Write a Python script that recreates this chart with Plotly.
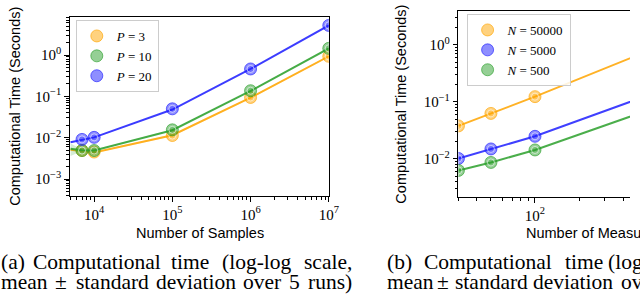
import plotly.graph_objects as go

# ---------------- data ----------------
# (a) time vs number of samples
samples_line = [5000, 7000, 10000, 100000, 1000000, 10000000]
samples_pts = [7000, 10000, 100000, 1000000, 10000000]
p_labels = ["<i>P</i> = 3", "<i>P</i> = 10", "<i>P</i> = 20"]
p3_mean = [0.0051, 0.0048, 0.0044, 0.0115, 0.093, 0.93]
p10_mean = [0.0054, 0.0050, 0.0049, 0.0152, 0.135, 1.45]
p20_mean = [0.0078, 0.0090, 0.0102, 0.048, 0.46, 5.2]
p3_std = [0.0003, 0.0002, 0.0002, 0.0006, 0.004, 0.03]
p10_std = [0.0018, 0.0002, 0.0002, 0.0005, 0.004, 0.04]
p20_std = [0.0004, 0.0003, 0.0003, 0.001, 0.01, 0.1]
p3_pts = [0.0049, 0.0045, 0.0113, 0.094, 0.93]
p10_pts = [0.0049, 0.0049, 0.0155, 0.137, 1.45]
p20_pts = [0.0091, 0.0102, 0.050, 0.46, 5.2]

# (b) time vs number of measurements
meas_x = [30, 50, 100, 500, 1000]
n_labels = ["<i>N</i> = 50000", "<i>N</i> = 5000", "<i>N</i> = 500"]
n50000 = [0.038, 0.063, 0.124, 0.66, 1.35]
n5000 = [0.0102, 0.015, 0.025, 0.112, 0.21]
n500 = [0.0063, 0.0087, 0.0144, 0.062, 0.115]

# tick labels
xa_tickvals = [1e4, 1e5, 1e6, 1e7]
xa_ticktext = ["10<sup>4</sup>", "10<sup>5</sup>", "10<sup>6</sup>", "10<sup>7</sup>"]
ya_tickvals = [1e-3, 1e-2, 1e-1, 1e0]
ya_ticktext = ["10<sup>−3</sup>", "10<sup>−2</sup>", "10<sup>−1</sup>", "10<sup>0</sup>"]
xb_tickvals = [1e2, 1e3]
xb_ticktext = ["10<sup>2</sup>", "10<sup>3</sup>"]
yb_tickvals = [1e-2, 1e-1, 1e0]
yb_ticktext = ["10<sup>−2</sup>", "10<sup>−1</sup>", "10<sup>0</sup>"]

x_title_a = "Number of Samples"
x_title_b = "Number of Measurements"
y_title = "Computational Time (Seconds)"
cap_line1 = ["(a)", "Computational", "time", "(log-log", "scale,"]
cap_line2 = ["mean", "±", "standard", "deviation", "over", "5", "runs)"]
capb_line1 = ["(b)", "Computational", "time", "(log-log", "scale,"]
capb_line2 = ["mean", "±", "standard", "deviation", "over", "5", "runs)"]

# ---------------- style ----------------
W, H = 640, 297
ORANGE = (255, 165, 0)
GREEN = (44, 160, 44)
BLUE = (30, 30, 255)


def rgba(c, a):
    return "rgba(%d,%d,%d,%.2f)" % (c[0], c[1], c[2], a)


def px(x):
    return x / W


def py(y):
    return 1 - y / H


def minor_ticks(lo_dec, hi_dec):
    return [m * 10 ** d for d in range(lo_dec, hi_dec) for m in range(2, 10)]


SERIF = "Liberation Serif, Times New Roman, serif"
SANS = "Liberation Sans, Arial, sans-serif"

fig = go.Figure()


def add_series(xl, yl, sl, xp, yp, color, name, xa, ya, legend):
    if sl is not None:
        lo = [m - s for m, s in zip(yl, sl)]
        hi = [m + s for m, s in zip(yl, sl)]
        fig.add_trace(go.Scatter(x=xl, y=lo, mode="lines", line=dict(width=0),
                                 showlegend=False, hoverinfo="skip", xaxis=xa, yaxis=ya))
        fig.add_trace(go.Scatter(x=xl, y=hi, mode="lines", line=dict(width=0),
                                 fill="tonexty", fillcolor=rgba(color, 0.2),
                                 showlegend=False, hoverinfo="skip", xaxis=xa, yaxis=ya))
    fig.add_trace(go.Scatter(x=xl, y=yl, mode="lines", line=dict(color=rgba(color, 0.85), width=2),
                             showlegend=False, xaxis=xa, yaxis=ya))
    fig.add_trace(go.Scatter(x=xp, y=yp, mode="markers", name=name, legend=legend,
                             marker=dict(size=12, color=rgba(color, 0.5),
                                         line=dict(width=1, color=rgba(color, 0.65))),
                             xaxis=xa, yaxis=ya))
    fig.add_trace(go.Scatter(x=xp, y=yp, mode="markers", showlegend=False,
                             marker=dict(size=7, color=rgba(color, 0.3),
                                         line=dict(width=1, color="rgba(255,255,255,0.6)")),
                             xaxis=xa, yaxis=ya))


add_series(samples_line, p3_mean, p3_std, samples_pts, p3_pts, ORANGE, p_labels[0], "x", "y", "legend")
add_series(samples_line, p10_mean, p10_std, samples_pts, p10_pts, GREEN, p_labels[1], "x", "y", "legend")
add_series(samples_line, p20_mean, p20_std, samples_pts, p20_pts, BLUE, p_labels[2], "x", "y", "legend")

add_series(meas_x, n50000, None, meas_x, n50000, ORANGE, n_labels[0], "x2", "y2", "legend2")
add_series(meas_x, n5000, None, meas_x, n5000, BLUE, n_labels[1], "x2", "y2", "legend2")
add_series(meas_x, n500, None, meas_x, n500, GREEN, n_labels[2], "x2", "y2", "legend2")


def axis(tickvals, ticktext, minor_vals, **kw):
    d = dict(
        type="log", tickmode="array", tickvals=tickvals, ticktext=ticktext,
        showgrid=False, zeroline=False,
        ticks="outside", ticklen=4.5, tickwidth=1.1, tickcolor="black",
        showline=True, linecolor="black", linewidth=1.2,
        tickfont=dict(family=SERIF, size=15, color="black"),
        minor=dict(ticks="outside", ticklen=2.5, tickwidth=1, tickcolor="black",
                   tickmode="array", tickvals=minor_vals, showgrid=False),
    )
    d.update(kw)
    return d


legend_common = dict(xanchor="left", yanchor="top", traceorder="normal",
                     bgcolor="rgba(255,255,255,0.85)", bordercolor="#cccccc", borderwidth=1,
                     font=dict(family=SERIF, size=13, color="black"), tracegroupgap=0,
                     itemwidth=30)

fig.update_layout(
    width=W, height=H,
    margin=dict(l=0, r=0, t=0, b=0),
    paper_bgcolor="white", plot_bgcolor="white",
    xaxis=axis(xa_tickvals, xa_ticktext, minor_ticks(3, 7),
               domain=[px(71), px(334)], range=[3.69, 7.0], anchor="y", mirror=True),
    yaxis=axis(ya_tickvals, ya_ticktext, minor_ticks(-4, 1),
               domain=[py(196), py(17)], range=[-3.41, 0.92], anchor="x", mirror=True),
    xaxis2=axis(xb_tickvals, xb_ticktext, minor_ticks(1, 3),
                domain=[px(465.7), 1.0], range=[1.477, 2.649], anchor="y2", mirror=True),
    yaxis2=axis(yb_tickvals, yb_ticktext, minor_ticks(-3, 1),
                domain=[py(197), py(11)], range=[-2.667, 0.596], anchor="x2", mirror=False),
    legend=dict(legend_common, x=px(77), y=py(20)),
    legend2=dict(legend_common, x=px(474), y=py(14)),
)

ann = []
# axis titles
ann.append(dict(text=x_title_a, x=px(203), y=py(233), xref="paper", yref="paper",
                xanchor="center", yanchor="middle", showarrow=False,
                font=dict(family=SANS, size=14.5, color="black")))
ann.append(dict(text=x_title_b, x=px(532), y=py(233), xref="paper", yref="paper",
                xanchor="left", yanchor="middle", showarrow=False,
                font=dict(family=SANS, size=14.5, color="black")))
ann.append(dict(text=y_title, x=px(15), y=py(106), xref="paper", yref="paper",
                xanchor="center", yanchor="middle", showarrow=False, textangle=-90,
                font=dict(family=SANS, size=14.5, color="black")))
ann.append(dict(text=y_title, x=px(407), y=py(104), xref="paper", yref="paper",
                xanchor="center", yanchor="middle", showarrow=False, textangle=-90,
                font=dict(family=SANS, size=14.5, color="black")))

# captions (justified word placement)
pos_a1 = [0, 32, 173, 225, 308]
pos_a2 = [0, 55, 76, 157, 246, 293, 312]
pos_b1 = [392, 430, 573, 617, 700]
pos_b2 = [392, 443, 461, 540, 630, 677, 697]
for words, pos, yy in [(cap_line1, pos_a1, 262), (cap_line2, pos_a2, 282),
                       (capb_line1, pos_b1, 262), (capb_line2, pos_b2, 282)]:
    for w, xx in zip(words, pos):
        ann.append(dict(text=w, x=px(xx), y=py(yy), xref="paper", yref="paper",
                        xanchor="left", yanchor="middle", showarrow=False, borderpad=0,
                        font=dict(family=SERIF, size=21.5, color="black")))

fig.update_layout(annotations=ann)
fig.write_html("out.html", config={"displayModeBar": False},
               post_script="document.body.style.margin='0';document.body.style.overflow='hidden';")
